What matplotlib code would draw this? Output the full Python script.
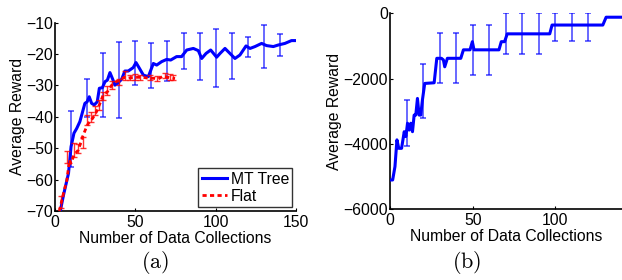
import matplotlib
matplotlib.use("Agg")
import matplotlib.pyplot as plt
import numpy as np

plt.rcParams['font.family'] = ['Liberation Sans', 'DejaVu Sans']
plt.rcParams['mathtext.fontset'] = 'cm'

# ---- Panel (a) data ----
tree_x = [3.3, 5.3, 8.4, 10, 11.8, 13.5, 15.5, 18.6, 20, 21.3, 22.8, 24.4, 26.3, 27.6, 29.5,
          31.1, 32.6, 34.2, 35.9, 37.3, 39.4, 41.5, 43.5, 45.6, 48.7, 50.4, 52.5, 55, 58.1,
          61.2, 63.3, 66.4, 69.5, 72, 75.7, 78.8, 82, 86.1, 89.2, 91.3, 94, 96.9, 100.6,
          102.7, 105.8, 108.9, 112, 115.1, 118.9, 121.4, 124.5, 128.6, 131.7, 135.9, 139,
          143.1, 147.2, 150]
tree_y = [-70, -64.9, -58, -49.5, -45.2, -43.7, -41.5, -35.7, -35.2, -33.6, -35.7, -36.2,
          -35.2, -30.9, -30.7, -28.8, -28.3, -25.9, -28, -29.9, -29.1, -28, -25.4, -25.4,
          -24.3, -22.7, -24.5, -26.7, -27.2, -23, -23.5, -22.4, -21.7, -21.9, -20.8, -20.8,
          -18.7, -18.2, -18.9, -21.4, -19.8, -18.7, -21.0, -19.8, -18.2, -19.8, -21.4,
          -20.3, -17.4, -18.2, -17.6, -16.6, -17.3, -17.6, -17.1, -16.6, -15.7, -15.7]
tree_err_x = [10, 20, 30, 40, 50, 60, 70, 80, 90, 100, 110, 120, 130, 140]
tree_err_lo = [-56.1, -40.0, -40.1, -40.3, -29.9, -30.9, -28.6, -24.9, -28.4, -30.6, -27.8, -21.0, -24.3, -20.6]
tree_err_hi = [-38.1, -27.8, -19.6, -16.3, -15.7, -16.6, -15.7, -13.2, -13.2, -12.1, -13.4, -14.7, -10.7, -13.6]

flat_x = [2.7, 5.3, 7.4, 9, 10, 11.8, 14.5, 17.2, 19.3, 20.7, 23.4, 25.9, 28, 30, 32.6,
          35.3, 38, 40.5, 43, 45.6, 48.7, 51.8, 54.9, 58, 61.2, 64.3, 67.4, 70.5, 74.7]
flat_y = [-70, -64.3, -60.1, -53.7, -54.8, -52.1, -50.6, -46.3, -43.6, -42.1, -40.5, -38.3,
          -35.7, -33, -32, -29.9, -28.8, -28.3, -27.4, -27.7, -27.4, -27.4, -27.4, -27.7,
          -27.7, -27.9, -27, -27.4, -27.8]
flat_err_x = [3.5, 7.7, 12, 14.5, 17.6, 20.1, 22.3, 25, 27.6, 30, 32.2, 35.3, 39.8, 43.6,
              46.7, 49.8, 52.9, 59.1, 63.3, 68.5, 71.6, 73.5]
flat_err_lo = [-69, -54.8, -52.8, -51.5, -49.9, -42.6, -41.5, -39.5, -37.8, -34.6, -32.9, -31,
               -29.8, -28.2, -28.2, -28.2, -28.2, -28.4, -28.6, -27.7, -28.2, -28.2]
flat_err_hi = [-65.2, -51, -48.3, -48.5, -46.3, -39.4, -38.5, -36.5, -34.6, -32, -30.2, -28.7,
               -28, -25.3, -26.6, -26.3, -26.6, -26.8, -27, -25.9, -26.3, -26.6]

# ---- Panel (b) data ----
b_x = [0, 1.6, 3, 4.2, 5.3, 7, 8.6, 9.6, 10.6, 11.6, 12.6, 13.6, 14.6, 15.6, 16.6, 17.6,
       18.6, 19.6, 21, 26.7, 28.3, 31.1, 32.3, 33.1, 34.7, 42.8, 44.4, 48.4, 49.8, 50.8,
       65.9, 67.3, 69.3, 70.9, 96.6, 98, 128.7, 130.7, 140]
b_y = [-5110, -5110, -4700, -3880, -4140, -4140, -3630, -3780, -3370, -3580, -3370, -3630,
       -3120, -3120, -2610, -3120, -3120, -2660, -2150, -2130, -1380, -1380, -1430, -1640,
       -1380, -1380, -1120, -1120, -870, -1120, -1120, -870, -870, -630, -630, -360, -360,
       -120, -120]
b_err_x = [10, 20, 30, 40, 50, 60, 70, 80, 90, 100, 110, 120]
b_err_lo = [-4070, -3220, -2150, -2150, -1890, -1890, -1260, -1260, -1260, -840, -840, -840]
b_err_hi = [-2660, -1560, -610, -610, -360, -360, 0, 0, 0, 0, 0, 0]

BLUE = '#0000ff'
RED = '#ff0000'
FS = 11.3

fig = plt.figure(figsize=(6.22, 2.8), dpi=100)
ax1 = fig.add_axes([55/622, 1-211/280, (296-55)/622, (211-22.7)/280])
ax2 = fig.add_axes([390/622, 1-209/280, (621.5-390)/622, (209-13.3)/280])

def style(ax):
    for s in ['top', 'right']:
        ax.spines[s].set_visible(False)
    for s in ['left', 'bottom']:
        ax.spines[s].set_linewidth(1.2)
    ax.tick_params(direction='in', length=2, labelsize=FS, pad=1.5)
    ax.tick_params(axis='x', pad=3.0)
    ax.set_xlabel('Number of Data Collections', fontsize=FS, labelpad=0.5)
    ax.set_ylabel('Average Reward', fontsize=FS, labelpad=1)

# panel a
ax1.plot(tree_x, tree_y, color=BLUE, lw=2.2, label='MT Tree', zorder=3)
tm = [(l + h) / 2 for l, h in zip(tree_err_lo, tree_err_hi)]
te = [(h - l) / 2 for l, h in zip(tree_err_lo, tree_err_hi)]
ax1.errorbar(tree_err_x, tm, yerr=te, fmt='none', ecolor=BLUE, elinewidth=1.1,
             capsize=2.5, capthick=1.1, alpha=0.75, zorder=2)
ax1.plot(flat_x, flat_y, color=RED, lw=2.0, ls=(0, (1.5, 1.2)), label='Flat', zorder=4)
fm = [(l + h) / 2 for l, h in zip(flat_err_lo, flat_err_hi)]
fe = [(h - l) / 2 for l, h in zip(flat_err_lo, flat_err_hi)]
ax1.errorbar(flat_err_x, fm, yerr=fe, fmt='none', ecolor=RED, elinewidth=1.0,
             capsize=2, capthick=1.0, alpha=0.8, zorder=4)
ax1.set_xlim(0, 150)
ax1.set_ylim(-70, -10)
ax1.set_xticks([0, 50, 100, 150])
ax1.set_yticks([-70, -60, -50, -40, -30, -20, -10])
style(ax1)
leg = ax1.legend(loc='lower right', fontsize=FS, frameon=True, fancybox=False,
                 edgecolor='black', handlelength=1.6, borderpad=0.2, labelspacing=0.15,
                 handletextpad=0.25, borderaxespad=0.25)
leg.get_frame().set_linewidth(1.0)

# panel b
ax2.plot(b_x, b_y, color=BLUE, lw=2.2, zorder=3)
bm = [(l + h) / 2 for l, h in zip(b_err_lo, b_err_hi)]
be = [(h - l) / 2 for l, h in zip(b_err_lo, b_err_hi)]
ax2.errorbar(b_err_x, bm, yerr=be, fmt='none', ecolor=BLUE, elinewidth=1.1,
             capsize=2.5, capthick=1.1, alpha=0.75, zorder=2)
ax2.set_xlim(0, 140)
ax2.set_ylim(-6000, 0)
ax2.set_xticks([0, 50, 100])
ax2.set_yticks([-6000, -4000, -2000, 0])
style(ax2)

fig.text(155/622, 1-262/280, r'$\mathrm{(a)}$', fontsize=16, ha='center', va='center')
fig.text(467/622, 1-262/280, r'$\mathrm{(b)}$', fontsize=16, ha='center', va='center')

fig.savefig('out.png', dpi=100)
